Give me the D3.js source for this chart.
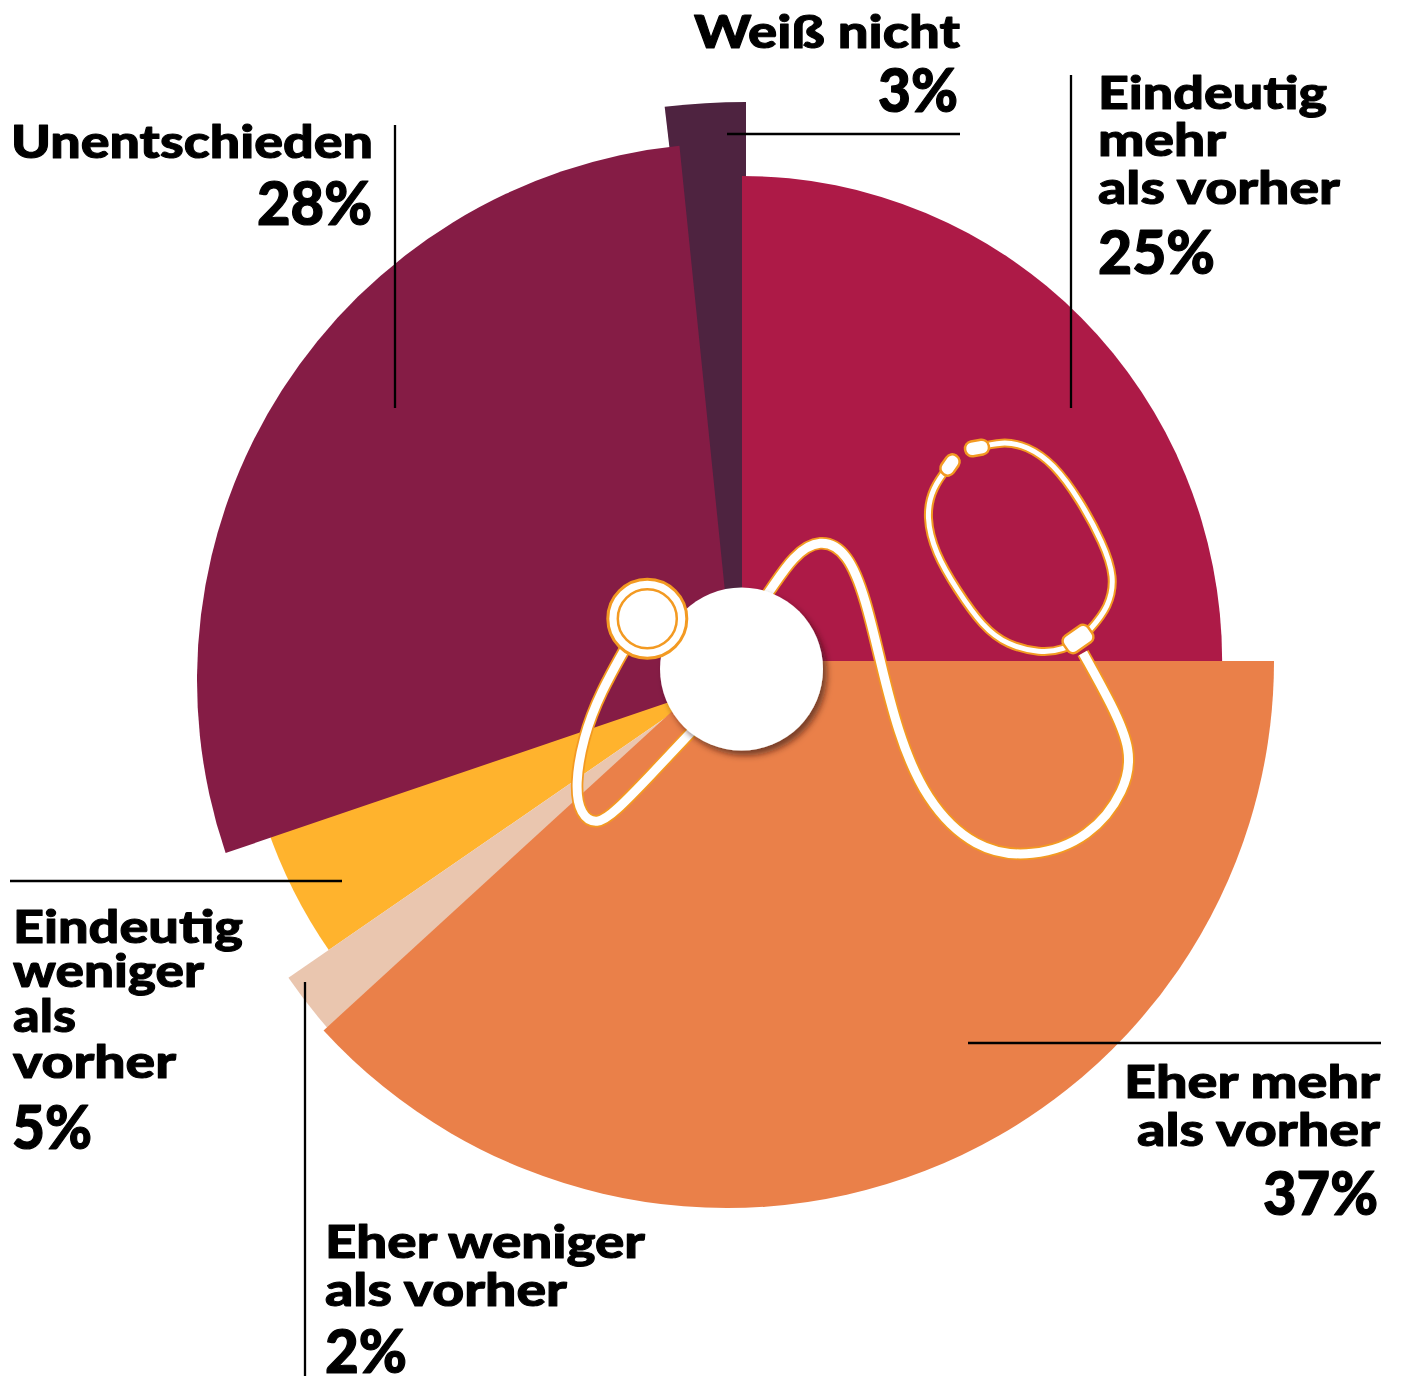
<!DOCTYPE html>
<html lang="de">
<head>
<meta charset="utf-8">
<style>
html,body{margin:0;padding:0;background:#fff;}
svg{display:block;}
text{font-family:Lato,"Open Sans",sans-serif;font-weight:900;fill:#000;stroke:#000;stroke-linejoin:round;}
</style>
<script src="https://cdn.jsdelivr.net/npm/d3@7/dist/d3.min.js"></script>
</head>
<body>
<div id="chart"></div>
<script>
// Categories and printed percentages
const categories = ["Eindeutig mehr als vorher","Eher mehr als vorher","Eher weniger als vorher","Eindeutig weniger als vorher","Unentschieden","Weiß nicht"];
const printedPercent = [25,37,2,5,28,3];
// Angular shares as actually drawn in the picture (percent of the full turn)
const drawnShare = [25,38.2,2.19,4.39,28.6,1.62];
// Relative length of each wedge
const wedgeRadius = [485,547,551,502,537,698];

const W=1401,H=1378;
const sliceColors=["#AD1A47","#EA8049","#EAC6AF","#FFB32D","#851C45","#4E2340"];
const sliceCenters=[[742,661],[727,661],[742,665],[742,665],[734,680],[746,800]];
const sliceScaleX=[0.99,1,1,1,1,1];
const startOverlapDeg=[0,0,0,0,0,0.86];
const drawOrder=[5,3,2,0,1,4];

const svg=d3.select("#chart").append("svg").attr("width",W).attr("height",H).attr("viewBox",`0 0 ${W} ${H}`);
const defs=svg.append("defs");
const f=defs.append("filter").attr("id","shadow").attr("x","-30%").attr("y","-30%").attr("width","160%").attr("height","160%");
f.append("feDropShadow").attr("dx",4).attr("dy",5).attr("stdDeviation",3).attr("flood-color","#2a0a0a").attr("flood-opacity",0.6);

const pie=d3.pie().sort(null).value(d=>d);
const arcs=pie(drawnShare);
const arc=d3.arc().innerRadius(0);
const gSlices=svg.append("g");
drawOrder.forEach(i=>{
  const a=arcs[i];
  gSlices.append("path")
    .attr("d",arc({startAngle:a.startAngle-startOverlapDeg[i]*Math.PI/180,endAngle:a.endAngle,outerRadius:wedgeRadius[i]}))
    .attr("transform",`translate(${sliceCenters[i][0]},${sliceCenters[i][1]}) scale(${sliceScaleX[i]},1)`)
    .attr("fill",sliceColors[i]);
});

// Decorative stethoscope
const ORANGE="#F39A22";
const curve=d3.line().curve(d3.curveBasis);
const tubeMain=[[752,616],[772,588],[793,556],[820,538],[848,552],[866,600],[880,660],[897,730],[925,800],[975,850],[1032,858],[1090,838],[1126,790],[1132,750],[1112,705],[1083,653]];
const tubeChest=[[630,640],[600,693],[583,738],[575,785],[580,815],[597,825],[615,812],[650,776],[690,733],[708,715]];
const loopLeft=[[1082,639],[1063,650],[1040,653],[1007,645],[983,627],[957,590],[935,553],[926,517],[932,488],[950,465]];
const loopRight=[[1074,646],[1090,630],[1109,607],[1115,577],[1103,543],[1080,500],[1053,463],[1027,446],[1003,441],[972,449]];
const gS=svg.append("g").attr("fill","none").attr("stroke-linecap","butt");
function tube(pts,w,o){
  gS.append("path").attr("d",curve(pts)).attr("stroke",ORANGE).attr("stroke-width",w+o);
  gS.append("path").attr("d",curve(pts)).attr("stroke","#fff").attr("stroke-width",w);
}
tube(tubeMain,9,3.5);
tube(tubeChest,9,3.5);
tube(loopLeft,5,4);
tube(loopRight,5,4);
function knob(cx,cy,w,h,rot,r){
  svg.append("rect").attr("x",-w/2).attr("y",-h/2).attr("width",w).attr("height",h).attr("rx",r).attr("ry",r)
    .attr("transform",`translate(${cx},${cy}) rotate(${rot})`)
    .attr("fill","#fff").attr("stroke",ORANGE).attr("stroke-width",2.5);
}
knob(950,465,14.5,22.5,35,7);
knob(977,448,24,15,-10,7);
knob(1078,639,30,20,-35,6.5);

// Central hub
svg.append("circle").attr("cx",741.5).attr("cy",669).attr("r",81.5).attr("fill","#fff").attr("filter","url(#shadow)");
// Chest piece
svg.append("circle").attr("cx",647.3).attr("cy",618.7).attr("r",39.5).attr("fill","#fff").attr("stroke",ORANGE).attr("stroke-width",3);
svg.append("circle").attr("cx",647.3).attr("cy",618.7).attr("r",29.5).attr("fill","#fff").attr("stroke",ORANGE).attr("stroke-width",2.5);

// Leader lines
const leaders=[[727,134,960,134],[1071,75,1071,408],[395,125,395,408],[10,881,342,881],[968,1043,1381,1043],[305,982,305,1376]];
svg.append("g").selectAll("line").data(leaders).join("line")
  .attr("x1",d=>d[0]).attr("y1",d=>d[1]).attr("x2",d=>d[2]).attr("y2",d=>d[3])
  .attr("stroke","#000").attr("stroke-width",2.3);

// Labels: text, x, baseline, anchor, width
const LABEL=46, PCT=60;
const labelLines=[
 ["Weiß nicht",960,48,"end",266],
 ["Eindeutig",1098,109,"start",229],
 ["mehr",1098,156,"start",128],
 ["als vorher",1098,204,"start",242],
 ["Unentschieden",373,158,"end",362],
 ["Eindeutig",13,943,"start",230],
 ["weniger",13,987,"start",191],
 ["als",13,1032,"start",63],
 ["vorher",13,1078,"start",163],
 ["Eher mehr",1380,1098,"end",256],
 ["als vorher",1380,1146,"end",243],
 ["Eher weniger",325,1258,"start",320],
 ["als vorher",325,1306,"start",242]
];
const pctLines=[
 [5,958,112,"end",80],
 [0,1098,274,"start",117],
 [4,372,225,"end",115],
 [3,12,1149,"start",80],
 [1,1378,1215,"end",115],
 [2,325,1373,"start",82]
];
labelLines.forEach(d=>{
  svg.append("text").text(d[0]).attr("x",d[1]).attr("y",d[2]).attr("text-anchor",d[3])
    .attr("font-size",LABEL).attr("stroke-width",1).attr("textLength",d[4]).attr("lengthAdjust","spacingAndGlyphs");
});
pctLines.forEach(d=>{
  svg.append("text").text(printedPercent[d[0]]+"%").attr("x",d[1]).attr("y",d[2]).attr("text-anchor",d[3])
    .attr("font-size",PCT).attr("stroke-width",1.2).attr("textLength",d[4]).attr("lengthAdjust","spacingAndGlyphs");
});
</script>
</body>
</html>
